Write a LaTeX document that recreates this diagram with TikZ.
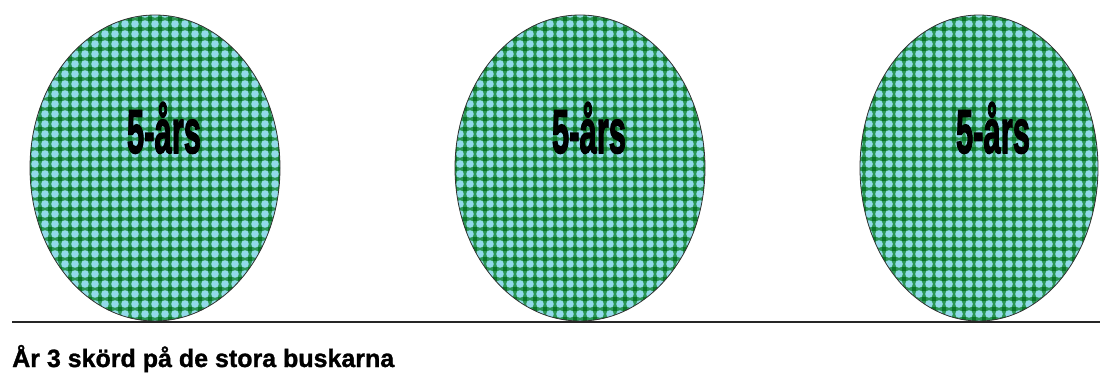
\documentclass[tikz,border=0pt]{standalone}
\usepackage{fontspec}
\setmainfont{Liberation Sans}
\newfontfamily\heavyfam[BoldFeatures={FakeBold=2.5}]{Liberation Sans}
\newfontfamily\capfam[BoldFeatures={FakeBold=1.2}]{Liberation Sans}
\usetikzlibrary{shapes.geometric}
\definecolor{bushgreen}{RGB}{44,152,84}
\definecolor{dotblue}{RGB}{146,218,234}
\definecolor{dkgreen}{RGB}{10,116,44}
\tikzset{
  bush/.style={ellipse, draw=black!80, line width=0.8pt, inner sep=0pt,
    minimum width=#1, minimum height=306pt},
  bushlabel/.style={font=\fontsize{62}{62}\selectfont\heavyfam\bfseries, xscale=0.5, anchor=base, inner sep=0pt},
  groundline/.style={line width=1.5pt, black!85},
  caption/.style={font=\fontsize{25}{26}\selectfont\capfam\bfseries, anchor=base west, inner sep=0pt}
}
\begin{document}
\begin{tikzpicture}[x=1pt,y=-1pt]
\useasboundingbox (0,0) rectangle (1100,379);
\fill[white] (0,0) rectangle (1100,379);
% dotted fill of the three bushes
\foreach \cx/\rx in {155/125, 580/125, 979/119} {
  \begin{scope}
    \clip (\cx,168) ellipse [x radius=\rx, y radius=153];
    \fill[bushgreen] (\cx-\rx,15) rectangle (\cx+\rx,321);
    \foreach \i in {-13,...,13} {
      \foreach \j in {0,...,31} {
        \fill[dotblue] (\cx+10*\i, 14+10*\j) circle (3.8);
        \fill[dkgreen] (\cx+10*\i+2.8, 14+10*\j+2.8) rectangle ++(4.4,4.4);
      }
    }
  \end{scope}
}
\node[bush=250pt] (e1) at (155,168) {};
\node[bush=250pt] (e2) at (580,168) {};
\node[bush=238pt] (e3) at (979,168) {};
\node[bushlabel] (t1) at (164,153) {5-års};
\node[bushlabel] (t2) at (589,153) {5-års};
\node[bushlabel] (t3) at (993,153) {5-års};
\coordinate (l1) at (12,322);
\coordinate (l2) at (1100,322);
\draw[groundline] (l1) -- (l2);
\node[caption] (cap) at (12,367) {År 3 skörd på de stora buskarna};
\end{tikzpicture}
\end{document}
